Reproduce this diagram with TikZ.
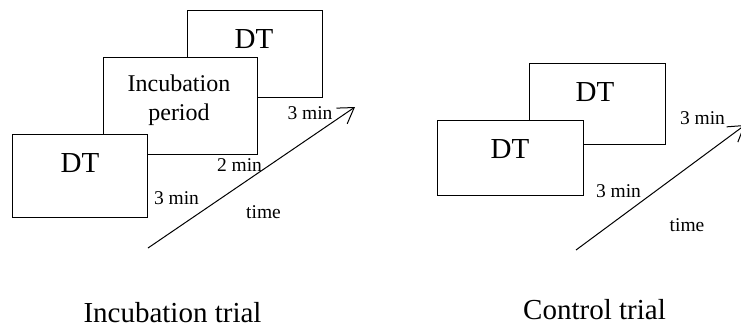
\documentclass[tikz,border=0pt]{standalone}
\usepackage{fontspec}
\setmainfont{Liberation Serif}
\usetikzlibrary{arrows.meta}

\begin{document}
\begin{tikzpicture}[x=1pt, y=-1pt,
		box/.style={draw=black, fill=white, line width=1pt},
		big/.style={font=\fontsize{29}{35}\selectfont, anchor=base, inner sep=0pt},
		mid/.style={font=\fontsize{24}{29}\selectfont, anchor=base, inner sep=0pt},
		small/.style={font=\fontsize{19.5}{23}\selectfont, anchor=base, inner sep=0pt},
		timeline/.style={line width=1pt, -{Straight Barb[length=15pt, width=19pt]}}]
			%%%%% START %%%%%
			
			\clip (0, 0) rectangle (741, 327);
			
			% incubation trial
			\draw[box] (187, 10) rectangle (322, 97);
			\draw[box] (103, 57) rectangle (257, 154);
			\draw[box] (12, 134) rectangle (147, 217);
			
			\node[big] (incdtb) at (254, 48.3) {DT};
			\node[mid] (incub) at (179, 91.7) {Incubation};
			\node[mid] (period) at (179, 120.5) {period};
			\node[big] (incdta) at (80, 172.7) {DT};
			
			\coordinate (incstart) at (148, 248);
			\coordinate (incend) at (355, 107);
			\draw[timeline] (incstart) -- (incend);
			
			\node[small] (incmina) at (176.5, 204) {3 min};
			\node[small] (incminb) at (239.5, 171.7) {2 min};
			\node[small] (incminc) at (310, 119.3) {3 min};
			\node[small] (inctime) at (263.5, 218.3) {time};
			
			\node[big] (inctrial) at (172.5, 322) {Incubation trial};
			
			% control trial
			\draw[box] (529, 63) rectangle (665, 144);
			\draw[box] (437, 120) rectangle (583, 195);
			
			\node[big] (ctldtb) at (595, 101.7) {DT};
			\node[big] (ctldta) at (510, 158.3) {DT};
			
			\coordinate (ctlstart) at (576, 250);
			\coordinate (ctlend) at (745, 125);
			\draw[timeline] (ctlstart) -- (ctlend);
			
			\node[small] (ctlmina) at (618.5, 197.7) {3 min};
			\node[small] (ctlminb) at (702.5, 124.3) {3 min};
			\node[small] (ctltime) at (687, 231) {time};
			
			\node[big] (ctltrial) at (594.5, 319) {Control trial};
			
			%%%%% END %%%%%
		\end{tikzpicture}
\end{document}
